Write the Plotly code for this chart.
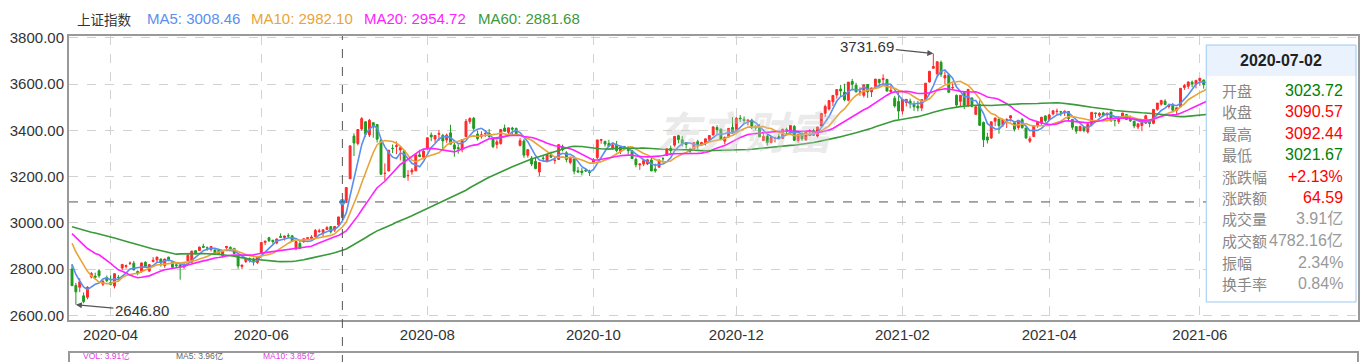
import plotly.graph_objects as go
import pandas as pd

# ---------------- data (上证指数 daily, 2020-03-18 .. 2021-06-11) ----------------
month_days = [
    ("2020-03", [18, 19, 20, 23, 24, 25, 26, 27, 30, 31]),
    ("2020-04", [1, 2, 3, 7, 8, 9, 10, 13, 14, 15, 16, 17, 20, 21, 22, 23, 24, 27, 28, 29, 30]),
    ("2020-05", [6, 7, 8, 11, 12, 13, 14, 15, 18, 19, 20, 21, 22, 25, 26, 27, 28, 29]),
    ("2020-06", [1, 2, 3, 4, 5, 8, 9, 10, 11, 12, 15, 16, 17, 18, 19, 22, 23, 24, 29, 30]),
    ("2020-07", [1, 2, 3, 6, 7, 8, 9, 10, 13, 14, 15, 16, 17, 20, 21, 22, 23, 24, 27, 28, 29, 30, 31]),
    ("2020-08", [3, 4, 5, 6, 7, 10, 11, 12, 13, 14, 17, 18, 19, 20, 21, 24, 25, 26, 27, 28, 31]),
    ("2020-09", [1, 2, 3, 4, 7, 8, 9, 10, 11, 14, 15, 16, 17, 18, 21, 22, 23, 24, 25, 28, 29, 30]),
    ("2020-10", [9, 12, 13, 14, 15, 16, 19, 20, 21, 22, 23, 26, 27, 28, 29, 30]),
    ("2020-11", [2, 3, 4, 5, 6, 9, 10, 11, 12, 13, 16, 17, 18, 19, 20, 23, 24, 25, 26, 27, 30]),
    ("2020-12", [1, 2, 3, 4, 7, 8, 9, 10, 11, 14, 15, 16, 17, 18, 21, 22, 23, 24, 25, 28, 29, 30, 31]),
    ("2021-01", [4, 5, 6, 7, 8, 11, 12, 13, 14, 15, 18, 19, 20, 21, 22, 25, 26, 27, 28, 29]),
    ("2021-02", [1, 2, 3, 4, 5, 8, 9, 10, 18, 19, 22, 23, 24, 25, 26]),
    ("2021-03", [1, 2, 3, 4, 5, 8, 9, 10, 11, 12, 15, 16, 17, 18, 19, 22, 23, 24, 25, 26, 29, 30, 31]),
    ("2021-04", [1, 2, 6, 7, 8, 9, 12, 13, 14, 15, 16, 19, 20, 21, 22, 23, 26, 27, 28, 29, 30]),
    ("2021-05", [6, 7, 10, 11, 12, 13, 14, 17, 18, 19, 20, 21, 24, 25, 26, 27, 28, 31]),
    ("2021-06", [1, 2, 3, 4, 7, 8, 9, 10, 11]),
]

open_ = [
    2801, 2730, 2722, 2685, 2679, 2767, 2770, 2793, 2735, 2764,
    2743, 2727, 2764, 2805, 2812, 2825, 2826, 2790, 2790, 2830, 2792, 2833, 2840, 2844, 2816, 2852, 2830, 2819, 2818, 2810, 2836,
    2830, 2880, 2881, 2899, 2892, 2885, 2883, 2882, 2859, 2893, 2894, 2889, 2858, 2812, 2833, 2845, 2838, 2829,
    2868, 2916, 2936, 2925, 2913, 2942, 2937, 2945, 2944, 2888, 2911, 2920, 2932, 2933, 2941, 2963, 2958, 2972, 2984, 2969,
    2991, 3023.72, 3097, 3191, 3375, 3343, 3406, 3437, 3380, 3433, 3425, 3357, 3214, 3224, 3322, 3330, 3315, 3312, 3203, 3220, 3225, 3294, 3284,
    3323, 3380, 3362, 3383, 3378, 3358, 3389, 3337, 3325, 3316, 3373, 3438, 3452, 3384, 3374, 3385, 3388, 3366, 3339, 3343, 3410,
    3391, 3410, 3408, 3335, 3354, 3292, 3280, 3266, 3220, 3279, 3267, 3294, 3270, 3274, 3330, 3303, 3261, 3276, 3225, 3224, 3227, 3221,
    3262, 3282, 3357, 3352, 3343, 3322, 3337, 3308, 3330, 3318, 3312, 3275, 3251, 3254, 3255, 3272,
    3233, 3241, 3278, 3291, 3322, 3336, 3377, 3359, 3347, 3313, 3319, 3351, 3339, 3342, 3361, 3380, 3412, 3405, 3353, 3371, 3412,
    3396, 3453, 3447, 3440, 3444, 3417, 3411, 3356, 3374, 3347, 3367, 3372, 3365, 3403, 3396, 3417, 3356, 3385, 3359, 3393, 3398, 3375, 3419,
    3474, 3492, 3523, 3552, 3578, 3565, 3530, 3611, 3595, 3564, 3551, 3598, 3566, 3590, 3620, 3619, 3620, 3567, 3539, 3524,
    3483, 3520, 3526, 3511, 3505, 3496, 3532, 3609, 3668, 3644, 3694, 3626, 3640, 3584, 3551,
    3525, 3563, 3510, 3540, 3469, 3511, 3434, 3371, 3367, 3439, 3449, 3424, 3445, 3453, 3433, 3412, 3446, 3410, 3353, 3373, 3420, 3431, 3462,
    3446, 3471, 3481, 3480, 3475, 3481, 3447, 3416, 3399, 3414, 3393, 3424, 3475, 3465, 3475, 3467, 3479, 3443, 3438, 3461, 3468,
    3453, 3439, 3414, 3421, 3431, 3441, 3430, 3491, 3513, 3526, 3503, 3508, 3486, 3501, 3585, 3590, 3608, 3598,
    3615, 3617, 3598, 3582, 3601, 3601, 3583, 3593, 3611,
]

high_ = [
    2821, 2741, 2761, 2700, 2726, 2788, 2785, 2800, 2755, 2773,
    2773, 2781, 2775, 2821, 2820, 2833, 2836, 2795, 2827, 2834, 2820, 2852, 2853, 2846, 2845, 2854, 2834, 2826, 2822, 2823, 2866,
    2879, 2880, 2898, 2910, 2898, 2898, 2885, 2884, 2876, 2900, 2899, 2893, 2858, 2818, 2849, 2851, 2850, 2853,
    2915, 2922, 2940, 2927, 2932, 2955, 2944, 2955, 2948, 2920, 2921, 2932, 2938, 2947, 2974, 2975, 2971, 2986, 2985, 2986,
    3026, 3092.44, 3153, 3333, 3387, 3404, 3457, 3439, 3449, 3434, 3426, 3363, 3257, 3314, 3339, 3352, 3331, 3312, 3228, 3237, 3294, 3316, 3314,
    3368, 3391, 3378, 3402, 3385, 3386, 3424, 3347, 3340, 3360, 3449, 3456, 3458, 3399, 3396, 3399, 3406, 3371, 3360, 3405, 3425,
    3411, 3415, 3412, 3367, 3362, 3318, 3289, 3284, 3263, 3291, 3297, 3308, 3289, 3339, 3338, 3310, 3287, 3277, 3242, 3237, 3235, 3230,
    3280, 3359, 3363, 3355, 3359, 3346, 3354, 3329, 3333, 3332, 3316, 3282, 3257, 3270, 3277, 3287,
    3256, 3275, 3284, 3320, 3334, 3374, 3381, 3375, 3349, 3325, 3347, 3359, 3350, 3364, 3378, 3418, 3422, 3408, 3373, 3410, 3457,
    3457, 3466, 3460, 3445, 3450, 3422, 3426, 3388, 3381, 3372, 3372, 3385, 3406, 3411, 3421, 3423, 3383, 3397, 3397, 3405, 3407, 3414, 3474,
    3511, 3528, 3551, 3577, 3596, 3601, 3608, 3622, 3605, 3586, 3596, 3600, 3584, 3621, 3622, 3642, 3622, 3595, 3549, 3564,
    3535, 3534, 3537, 3526, 3527, 3533, 3603, 3656, 3731.69, 3697, 3701, 3655, 3643, 3603, 3555,
    3552, 3563, 3577, 3541, 3509, 3529, 3438, 3389, 3437, 3454, 3450, 3447, 3452, 3466, 3436, 3444, 3453, 3411, 3374, 3419, 3440, 3457, 3465,
    3471, 3485, 3494, 3484, 3486, 3481, 3449, 3417, 3420, 3418, 3432, 3478, 3476, 3478, 3480, 3475, 3481, 3447, 3459, 3475, 3470,
    3464, 3442, 3430, 3448, 3467, 3446, 3491, 3518, 3531, 3534, 3515, 3518, 3497, 3581, 3600, 3611, 3615, 3618,
    3626, 3620, 3604, 3593, 3610, 3609, 3600, 3611, 3614,
]

low_ = [
    2728, 2646.80, 2701, 2653, 2670, 2760, 2755, 2763, 2727, 2744,
    2730, 2717, 2757, 2796, 2803, 2818, 2796, 2774, 2785, 2807, 2788, 2830, 2830, 2811, 2806, 2834, 2806, 2806, 2755, 2802, 2836,
    2830, 2863, 2879, 2891, 2880, 2877, 2862, 2866, 2849, 2888, 2881, 2865, 2802, 2800, 2827, 2829, 2816, 2823,
    2868, 2904, 2917, 2910, 2908, 2936, 2924, 2936, 2918, 2882, 2888, 2913, 2924, 2932, 2938, 2957, 2941, 2970, 2954, 2961,
    2984, 3021.67, 3085, 3191, 3289, 3335, 3399, 3372, 3371, 3368, 3347, 3210, 3183, 3224, 3302, 3297, 3270, 3196, 3182, 3208, 3225, 3286, 3275,
    3316, 3353, 3346, 3354, 3314, 3346, 3340, 3286, 3299, 3305, 3373, 3428, 3399, 3356, 3364, 3371, 3366, 3323, 3321, 3338, 3395,
    3381, 3380, 3381, 3330, 3281, 3282, 3245, 3232, 3202, 3263, 3263, 3281, 3255, 3274, 3309, 3262, 3253, 3210, 3219, 3205, 3220, 3202,
    3262, 3276, 3342, 3330, 3329, 3315, 3305, 3297, 3314, 3294, 3276, 3240, 3229, 3245, 3250, 3224,
    3217, 3237, 3261, 3291, 3292, 3329, 3344, 3331, 3321, 3303, 3319, 3318, 3332, 3334, 3358, 3377, 3384, 3357, 3339, 3370, 3391,
    3390, 3436, 3431, 3421, 3405, 3402, 3372, 3353, 3334, 3344, 3348, 3360, 3363, 3381, 3383, 3354, 3347, 3355, 3355, 3374, 3379, 3369, 3418,
    3457, 3485, 3505, 3537, 3546, 3525, 3525, 3577, 3565, 3549, 3542, 3540, 3544, 3582, 3588, 3596, 3568, 3557, 3498, 3446,
    3469, 3503, 3495, 3484, 3482, 3483, 3528, 3606, 3666, 3629, 3631, 3600, 3563, 3576, 3497,
    3502, 3492, 3500, 3499, 3466, 3419, 3328, 3343, 3363, 3418, 3385, 3414, 3410, 3438, 3395, 3402, 3407, 3363, 3345, 3373, 3411, 3424, 3433,
    3440, 3465, 3466, 3461, 3462, 3440, 3402, 3385, 3395, 3391, 3386, 3417, 3454, 3457, 3460, 3450, 3437, 3417, 3428, 3451, 3446,
    3436, 3409, 3405, 3396, 3429, 3413, 3426, 3485, 3507, 3509, 3494, 3477, 3469, 3501, 3574, 3579, 3586, 3581,
    3592, 3580, 3571, 3557, 3578, 3566, 3578, 3587, 3586,
]

close_ = [
    2728.76, 2702.13, 2745.62, 2660.17, 2722.44, 2781.59, 2764.91, 2772.20, 2747.21, 2750.30,
    2734.52, 2780.64, 2763.99, 2820.76, 2815.37, 2825.90, 2796.63, 2783.05, 2827.28, 2811.17, 2819.94, 2838.49, 2852.55, 2827.01, 2843.98, 2838.50, 2808.53, 2815.49, 2810.02, 2822.44, 2860.08,
    2878.14, 2871.52, 2895.34, 2894.80, 2891.56, 2898.05, 2870.34, 2868.46, 2875.42, 2898.58, 2883.74, 2867.92, 2813.77, 2817.97, 2846.55, 2836.80, 2836.80, 2852.35,
    2915.43, 2921.40, 2923.37, 2919.25, 2930.80, 2937.77, 2943.75, 2943.32, 2920.90, 2919.74, 2890.03, 2931.75, 2935.87, 2939.32, 2967.63, 2965.27, 2970.62, 2979.55, 2961.52, 2984.67,
    3025.98, 3090.57, 3152.81, 3332.88, 3345.34, 3403.44, 3450.59, 3383.32, 3443.29, 3414.62, 3361.30, 3210.10, 3214.13, 3314.15, 3320.90, 3333.16, 3325.11, 3196.77, 3205.23, 3227.96, 3294.55, 3286.82, 3310.01,
    3367.97, 3371.69, 3377.56, 3386.46, 3354.04, 3379.25, 3340.29, 3319.27, 3320.73, 3360.10, 3438.80, 3451.09, 3408.13, 3363.90, 3380.68, 3385.64, 3373.58, 3329.74, 3350.11, 3403.81, 3395.68,
    3410.61, 3404.80, 3384.98, 3355.37, 3292.59, 3316.42, 3254.63, 3234.82, 3260.35, 3278.81, 3295.68, 3283.92, 3270.44, 3338.09, 3316.94, 3274.30, 3279.71, 3223.18, 3219.42, 3217.53, 3224.36, 3218.05,
    3272.08, 3358.47, 3359.75, 3340.47, 3332.18, 3336.36, 3312.50, 3328.10, 3325.03, 3312.16, 3278.00, 3251.12, 3254.32, 3269.24, 3272.74, 3224.53,
    3225.12, 3271.07, 3277.44, 3320.13, 3312.16, 3373.73, 3360.15, 3342.20, 3338.68, 3310.10, 3346.97, 3339.90, 3347.30, 3363.09, 3377.73, 3414.49, 3402.82, 3362.33, 3369.73, 3408.31, 3391.76,
    3451.94, 3449.38, 3442.14, 3444.58, 3416.60, 3410.18, 3371.96, 3373.28, 3347.19, 3369.12, 3367.23, 3366.98, 3404.87, 3394.90, 3420.57, 3356.78, 3382.32, 3363.11, 3396.56, 3397.29, 3379.04, 3414.45, 3473.07,
    3502.96, 3528.68, 3550.88, 3576.20, 3570.11, 3531.50, 3608.34, 3598.65, 3565.90, 3566.38, 3596.22, 3566.28, 3583.09, 3621.26, 3606.75, 3624.24, 3569.43, 3573.34, 3505.18, 3483.07,
    3533.68, 3533.69, 3517.31, 3501.86, 3496.33, 3532.44, 3603.49, 3655.09, 3675.36, 3696.17, 3642.44, 3636.36, 3564.08, 3585.05, 3509.08,
    3551.40, 3508.59, 3576.90, 3503.49, 3501.99, 3421.41, 3359.29, 3357.74, 3436.83, 3453.08, 3419.95, 3446.73, 3445.55, 3463.07, 3404.66, 3443.44, 3411.51, 3367.06, 3363.59, 3418.33, 3435.30, 3456.68, 3441.91,
    3466.33, 3484.39, 3482.45, 3479.64, 3482.55, 3450.68, 3412.95, 3396.47, 3416.94, 3398.99, 3426.62, 3477.55, 3472.94, 3472.95, 3465.11, 3474.17, 3441.17, 3442.61, 3457.07, 3474.90, 3446.86,
    3441.28, 3418.87, 3427.99, 3441.85, 3462.75, 3429.54, 3490.38, 3517.62, 3529.01, 3510.96, 3506.94, 3486.56, 3497.28, 3581.34, 3593.36, 3608.85, 3600.78, 3615.48,
    3624.71, 3597.14, 3584.22, 3591.84, 3599.54, 3580.11, 3591.40, 3610.86, 3589.75,
]

# closes before the first drawn day (needed for the moving averages)
history_close = [
    3022.42, 3017.04, 3017.07, 3004.94, 2962.75, 2982.68, 2981.88, 3007.35, 3005.04, 3040.02, 3050.12,
    3085.20, 3083.79, 3083.41, 3104.80, 3066.89, 3094.88, 3092.29, 3115.57, 3106.82, 3090.04, 3074.08, 3075.50, 3095.79, 3052.14, 3060.75, 2976.53,
    2746.61, 2783.29, 2818.09, 2866.51, 2875.96, 2890.49, 2901.67, 2926.90, 2906.07, 2917.01, 2983.62, 2984.97, 2975.40, 3030.15, 3039.67, 3031.23, 3013.05, 2987.93, 2991.33, 2880.30,
    2970.93, 2992.90, 3011.67, 3071.68, 3034.51, 2943.29, 2996.76, 2968.52, 2923.49, 2887.43, 2789.25, 2779.64,
]

ma_periods = [5, 10, 20, 60]
ma_colors = ["#5b8ef0", "#e9a438", "#ff22ff", "#3a9a3a"]
ma_title_values = ["3008.46", "2982.10", "2954.72", "2881.68"]

tick_months = ["2020-04", "2020-06", "2020-08", "2020-10", "2020-12", "2021-02", "2021-04", "2021-06"]
y_ticks = [2600, 2800, 3000, 3200, 3400, 3600, 3800]

cross_date = "2020-07-02"
cross_close = 3090.57
low_label = ("2020-03-19", 2646.80)
high_label = ("2021-02-18", 3731.69)

tip_labels = ["开盘", "收盘", "最高", "最低", "涨跌幅", "涨跌额", "成交量", "成交额", "振幅", "换手率"]
tip_values = ["3023.72", "3090.57", "3092.44", "3021.67", "+2.13%", "64.59", "3.91亿", "4782.16亿", "2.34%", "0.84%"]
tip_colors = ["#008000", "#ff0000", "#ff0000", "#008000", "#ff0000", "#ff0000", "#999999", "#999999", "#999999", "#999999"]

vol_titles = ["VOL: 3.91亿", "MA5: 3.96亿", "MA10: 3.85亿"]

# ---------------- build ----------------
dates = [f"{m}-{d:02d}" for m, days in month_days for d in days]
all_close = pd.Series(history_close + close_)
nh = len(history_close)
ma_series = {p: all_close.rolling(p).mean().iloc[nh:].round(2).tolist() for p in ma_periods}

W, H = 1364, 362
L, R, T, B = 69, 4, 36, 42
PW, PH = W - L - R, H - T - B
XR = [-0.78, 332.95]
YR = [2580.6, 3807.4]


def px(xp):
    return (xp - L) / PW


def py(yp):
    return (H - B - yp) / PH


def idx_paper(i):
    return (i - XR[0]) / (XR[1] - XR[0])


FONT = "Liberation Sans, Arial, Noto Sans CJK SC, sans-serif"

fig = go.Figure()
fig.add_trace(go.Candlestick(
    x=dates, open=open_, high=high_, low=low_, close=close_,
    increasing=dict(line=dict(color="#ff2a2a", width=1), fillcolor="#ff2a2a"),
    decreasing=dict(line=dict(color="#1f9a1f", width=1), fillcolor="#1f9a1f"),
    whiskerwidth=0, hoverinfo="skip", showlegend=False,
))
for p, c in zip(ma_periods, ma_colors):
    fig.add_trace(go.Scatter(x=dates, y=ma_series[p], mode="lines",
                             line=dict(color=c, width=1.6), hoverinfo="skip", showlegend=False))

fig.add_trace(go.Scatter(x=[cross_date], y=[cross_close], mode="markers",
                         marker=dict(color="#4aa3f5", size=6, symbol="circle"),
                         hoverinfo="skip", showlegend=False))

tickvals = []
for m in tick_months:
    first = next(d for d in dates if d.startswith(m))
    tickvals.append(first)

fig.update_layout(
    width=W, height=H, margin=dict(l=L, r=R, t=T, b=B),
    paper_bgcolor="white", plot_bgcolor="white",
    font=dict(family=FONT, size=15, color="#333"),
    showlegend=False, hovermode=False,
    xaxis=dict(type="category", range=XR, tickvals=tickvals, ticktext=tick_months,
               showgrid=True, gridcolor="#d2d2d2", griddash="dash", gridwidth=1,
               showline=True, mirror=True, linecolor="#999", linewidth=2,
               ticks="", zeroline=False, rangeslider=dict(visible=False),
               tickfont=dict(size=15, color="#333", family=FONT)),
    yaxis=dict(range=YR, tickvals=y_ticks, tickformat=".2f",
               showgrid=True, gridcolor="#d2d2d2", griddash="dash", gridwidth=1,
               showline=True, mirror=True, linecolor="#999", linewidth=2,
               ticks="", zeroline=False,
               tickfont=dict(size=15, color="#333", family=FONT)),
)

cross_i = dates.index(cross_date)
shapes = [
    # crosshair
    dict(type="line", xref="paper", yref="paper", x0=idx_paper(cross_i), x1=idx_paper(cross_i),
         y0=py(H + 2), y1=1, line=dict(color="#555", width=1, dash="dash"), layer="above"),
    dict(type="line", xref="paper", yref="y", x0=0, x1=1, y0=cross_close, y1=cross_close,
         line=dict(color="#555", width=1, dash="dash"), layer="above"),
    # lower panel frame (mostly cut off)
    dict(type="rect", xref="paper", yref="paper", x0=0, x1=1, y0=py(380), y1=py(352),
         line=dict(color="#999", width=2), fillcolor="rgba(0,0,0,0)", layer="above"),
    # tooltip box
    dict(type="rect", xref="paper", yref="paper", x0=px(1208), x1=px(1358), y0=py(302), y1=py(45),
         line=dict(width=0), fillcolor="white", layer="above"),
    dict(type="rect", xref="paper", yref="paper", x0=px(1208), x1=px(1358), y0=py(76), y1=py(45),
         line=dict(width=0), fillcolor="#eaf3fd", layer="above"),
    dict(type="rect", xref="paper", yref="paper", x0=px(1208), x1=px(1358), y0=py(302), y1=py(45),
         line=dict(color="#9cc8f2", width=1), fillcolor="rgba(0,0,0,0)", layer="above"),
]
fig.update_layout(shapes=shapes)

ann = []
# watermark
ann.append(dict(xref="paper", yref="paper", x=px(748), y=py(130), text="<b><i>东方财富</i></b>", showarrow=False,
                xanchor="center", yanchor="middle",
                font=dict(family="Noto Sans CJK SC", size=44, color="rgba(200,200,200,0.38)")))
# title row
ann.append(dict(xref="paper", yref="paper", x=px(75), y=py(19), xanchor="left", yanchor="middle",
                text="上证指数", showarrow=False, font=dict(family="Noto Sans CJK SC", size=13.5, color="#333")))
title_x = [145, 249, 362, 477]
for p, c, v, tx in zip(ma_periods, ma_colors, ma_title_values, title_x):
    ann.append(dict(xref="paper", yref="paper", x=px(tx), y=py(19), xanchor="left", yanchor="middle",
                    text=f"MA{p}: {v}", showarrow=False, font=dict(family=FONT, size=15, color=c)))
# extreme labels
ann.append(dict(x=dates.index(low_label[0]), y=low_label[1], xref="x", yref="y",
                text=f"{low_label[1]:.2f}", showarrow=True, arrowhead=2, arrowsize=1, arrowwidth=1.2,
                arrowcolor="#555", ax=66, ay=6, font=dict(family=FONT, size=15, color="#333")))
ann.append(dict(x=dates.index(high_label[0]), y=high_label[1], xref="x", yref="y",
                text=f"{high_label[1]:.2f}", showarrow=True, arrowhead=2, arrowsize=1, arrowwidth=1.2,
                arrowcolor="#555", ax=-66, ay=-7, font=dict(family=FONT, size=15, color="#333")))
# tooltip
ann.append(dict(xref="paper", yref="paper", x=px(1283), y=py(60.5), xanchor="center", yanchor="middle",
                text="<b>" + cross_date + "</b>",
                showarrow=False, font=dict(family=FONT, size=16, color="#222")))
row_y = [90, 111.5, 133, 154.5, 176, 197.5, 219, 240.5, 262, 283.5]
for lab, val, col, yy in zip(tip_labels, tip_values, tip_colors, row_y):
    ann.append(dict(xref="paper", yref="paper", x=px(1222), y=py(yy), xanchor="left", yanchor="middle",
                    text=lab, showarrow=False, font=dict(family="Noto Sans CJK SC", size=15, color="#888")))
    ann.append(dict(xref="paper", yref="paper", x=px(1347), y=py(yy), xanchor="right", yanchor="middle",
                    text=val, showarrow=False, font=dict(family=FONT, size=16, color=col)))
# lower panel title (squeezed into the visible strip)
for txt, xx, col in zip(vol_titles, [82, 175, 262], ["#e040e0", "#666", "#e040e0"]):
    ann.append(dict(xref="paper", yref="paper", x=px(xx), y=py(362), xanchor="left", yanchor="bottom",
                    text=txt, showarrow=False, borderpad=0,
                    font=dict(family=FONT, size=8.5, color=col)))
fig.update_layout(annotations=ann)

fig.write_html("out.html")
